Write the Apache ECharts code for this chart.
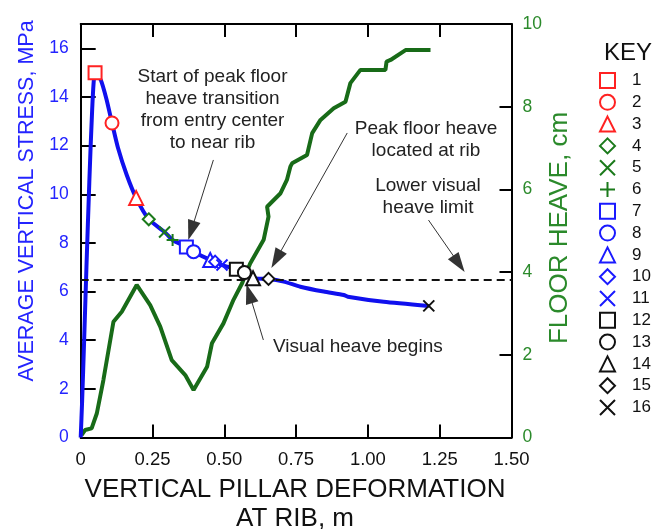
<!DOCTYPE html>
<html>
<head>
<meta charset="utf-8">
<script src="https://cdn.jsdelivr.net/npm/echarts@6/dist/echarts.min.js"></script>
<style>
  html, body { margin: 0; padding: 0; background: #fff; }
  #chart { width: 667px; height: 529px; }
</style>
</head>
<body>
<div id="chart"></div>
<script>
// Average vertical stress (MPa) vs. vertical pillar deformation at rib (m)
const stressX = [0, 0.005, 0.012, 0.02, 0.03, 0.04, 0.05, 0.07, 0.09, 0.109, 0.13, 0.16, 0.193, 0.237, 0.292, 0.32,
  0.368, 0.393, 0.451, 0.468, 0.492, 0.542, 0.57, 0.60, 0.654, 0.707, 0.765, 0.846, 0.916, 0.93, 1.055, 1.212];
const stressY = [0, 1.5, 4.0, 7.0, 10.5, 13.5, 15.0, 14.7, 13.9, 12.93, 11.9, 10.8, 9.85, 8.97, 8.45, 8.12,
  7.83, 7.64, 7.30, 7.23, 7.09, 6.92, 6.78, 6.55, 6.52, 6.41, 6.20, 6.00, 5.86, 5.79, 5.58, 5.41];

// Floor heave (cm) vs. vertical pillar deformation at rib (m)
const heaveX = [0.003, 0.015, 0.038, 0.056, 0.079, 0.114, 0.143, 0.195, 0.242, 0.277, 0.317, 0.364, 0.393, 0.44,
  0.457, 0.497, 0.532, 0.562, 0.59, 0.637, 0.654, 0.649, 0.695, 0.718, 0.73, 0.736, 0.788, 0.806, 0.835, 0.881,
  0.922, 0.939, 0.974, 1.061, 1.065, 1.079, 1.131, 1.218];
const heaveY = [0.06, 0.18, 0.22, 0.58, 1.39, 2.80, 3.04, 3.69, 3.20, 2.68, 1.87, 1.51, 1.15, 1.71,
  2.28, 2.76, 3.33, 3.73, 4.21, 4.78, 5.34, 5.58, 5.90, 6.23, 6.55, 6.63, 6.83, 7.36, 7.68, 7.96,
  8.12, 8.57, 8.89, 8.89, 9.09, 9.13, 9.37, 9.37];

// Keyed stages along the stress curve
const keyNames = ['1', '2', '3', '4', '5', '6', '7', '8', '9', '10', '11', '12', '13', '14', '15', '16'];
const keyX = [0.05, 0.109, 0.193, 0.237, 0.292, 0.32, 0.368, 0.393, 0.451, 0.468, 0.492, 0.542, 0.57, 0.60, 0.654, 1.212];
const keyY = [15.0, 12.93, 9.85, 8.97, 8.45, 8.12, 7.83, 7.64, 7.30, 7.23, 7.09, 6.92, 6.78, 6.55, 6.52, 5.41];

// Lower visual heave limit (MPa)
const visualLimit = 6.5;

// Axis ticks
const xTicks = ['0', '0.25', '0.50', '0.75', '1.00', '1.25', '1.50'];

// Annotation arrows: [startX, startY, headX, headY] in data units (stress axis)
const arrowLines = [
  [0.462, 11.41, 0.385, 8.51],
  [0.928, 12.52, 0.681, 7.33],
  [1.211, 8.94, 1.317, 7.14],
  [0.636, 4.01, 0.587, 5.92]
];

// Marker styling
const RED = '#ff2222', GRN = '#1b7a1b', BLU = '#1a1aff', BLK = '#111111';
const CROSS = 'path://M0,0L10,10M10,0L0,10';
const PLUS = 'path://M5,0L5,10M0,5L10,5';
const keyColors = [RED, RED, RED, GRN, GRN, GRN, BLU, BLU, BLU, BLU, BLU, BLK, BLK, BLK, BLK, BLK];
const keySymbols = ['rect', 'circle', 'triangle', 'diamond', CROSS, PLUS, 'rect', 'circle', 'triangle', 'diamond', CROSS,
  'rect', 'circle', 'triangle', 'diamond', CROSS];
const keySizes = [13, 13, 14, 12, 11, 12, 13, 13, 14, 12, 11, 13, 13, 14, 12, 11];

const FONT = '"Liberation Sans", Arial, Helvetica, sans-serif';

const chart = echarts.init(document.getElementById('chart'), null, { renderer: 'canvas' });

const zip = (xs, ys) => xs.map((x, i) => [x, ys[i]]);

const keySeries = keyNames.map((name, i) => ({
  name: name,
  type: 'scatter',
  xAxisIndex: 0,
  yAxisIndex: 0,
  symbol: keySymbols[i],
  symbolSize: keySizes[i],
  data: [[keyX[i], keyY[i]]],
  itemStyle: { color: '#ffffff', borderColor: keyColors[i], borderWidth: 2, opacity: 1 },
  emphasis: { disabled: true },
  z: 5
}));

const frameLine = { show: true, onZero: false, lineStyle: { color: '#000', width: 2 } };

const option = {
  animation: false,
  backgroundColor: '#ffffff',
  textStyle: { fontFamily: FONT },
  grid: { left: 80.7, right: 155.5, top: 24, bottom: 91.5, show: false, containLabel: false },
  legend: {
    orient: 'vertical',
    left: 594,
    top: 67,
    itemWidth: 15,
    itemHeight: 15,
    itemGap: 4.8,
    data: keyNames,
    selectedMode: false,
    textStyle: { fontFamily: FONT, fontSize: 17, color: '#111', padding: [0, 0, 0, 12] }
  },
  xAxis: [
    {
      type: 'value', position: 'bottom', min: 0, max: 1.5, interval: 0.25,
      axisLine: frameLine,
      axisTick: { show: true, inside: true, length: 13, lineStyle: { color: '#000', width: 2 } },
      axisLabel: {
        color: '#111', fontSize: 18.5, margin: 13, fontFamily: FONT,
        formatter: (v) => xTicks[Math.round(v / 0.25)]
      },
      splitLine: { show: false }
    },
    {
      type: 'value', position: 'top', min: 0, max: 1.5, interval: 0.25,
      axisLine: frameLine,
      axisTick: { show: true, inside: true, length: 13, lineStyle: { color: '#000', width: 2 } },
      axisLabel: { show: false },
      splitLine: { show: false }
    }
  ],
  yAxis: [
    {
      type: 'value', position: 'left', min: 0, max: 17, interval: 2,
      axisLine: frameLine,
      axisTick: { show: true, inside: true, length: 15, lineStyle: { color: '#000', width: 2 } },
      axisLabel: { color: '#2424ff', fontSize: 17.5, margin: 12, fontFamily: FONT, showMaxLabel: false,
        formatter: (v) => (v % 2 === 0 ? String(v) : '') },
      splitLine: { show: false }
    },
    {
      type: 'value', position: 'right', min: 0, max: 10, interval: 2,
      axisLine: frameLine,
      axisTick: { show: true, inside: true, length: 12, lineStyle: { color: '#000', width: 2 } },
      axisLabel: { color: '#2b8a2b', fontSize: 17.5, margin: 11, fontFamily: FONT },
      splitLine: { show: false }
    }
  ],
  graphic: [
    {
      type: 'text', x: 27, y: 201, rotation: Math.PI / 2,
      style: { text: 'AVERAGE VERTICAL STRESS, MPa', fill: '#2424ff', font: '21.5px ' + FONT,
        textAlign: 'center', textVerticalAlign: 'middle' }
    },
    {
      type: 'text', x: 560, y: 228, rotation: Math.PI / 2,
      style: { text: 'FLOOR HEAVE, cm', fill: '#2b8a2b', font: '26px ' + FONT,
        textAlign: 'center', textVerticalAlign: 'middle' }
    },
    {
      type: 'text', x: 295, y: 475.5,
      style: { text: 'VERTICAL PILLAR DEFORMATION\nAT RIB, m', fill: '#111', font: '26px ' + FONT,
        textAlign: 'center', textVerticalAlign: 'top', lineHeight: 29 }
    },
    {
      type: 'text', x: 628, y: 53,
      style: { text: 'KEY', fill: '#111', font: '24px ' + FONT, textAlign: 'center', textVerticalAlign: 'middle' }
    },
    {
      type: 'text', x: 212.5, y: 65.5,
      style: { text: 'Start of peak floor\nheave transition\nfrom entry center\nto near rib', fill: '#222',
        font: '19px ' + FONT, textAlign: 'center', textVerticalAlign: 'top', lineHeight: 22.2 }
    },
    {
      type: 'text', x: 426, y: 117.5,
      style: { text: 'Peak floor heave\nlocated at rib', fill: '#222',
        font: '19px ' + FONT, textAlign: 'center', textVerticalAlign: 'top', lineHeight: 22 }
    },
    {
      type: 'text', x: 428, y: 174.5,
      style: { text: 'Lower visual\nheave limit', fill: '#222',
        font: '19px ' + FONT, textAlign: 'center', textVerticalAlign: 'top', lineHeight: 22 }
    },
    {
      type: 'text', x: 273, y: 347,
      style: { text: 'Visual heave begins', fill: '#222',
        font: '19px ' + FONT, textAlign: 'left', textVerticalAlign: 'middle' }
    }
  ],
  series: [
    {
      name: 'Floor heave',
      type: 'line',
      xAxisIndex: 0,
      yAxisIndex: 1,
      data: zip(heaveX, heaveY),
      showSymbol: false,
      symbol: 'none',
      lineStyle: { color: '#186b18', width: 4 },
      emphasis: { disabled: true },
      z: 2
    },
    {
      name: 'Average vertical stress',
      type: 'line',
      xAxisIndex: 0,
      yAxisIndex: 0,
      data: zip(stressX, stressY),
      showSymbol: false,
      symbol: 'none',
      smooth: 0.2,
      lineStyle: { color: '#1010ee', width: 4 },
      emphasis: { disabled: true },
      z: 3,
      markLine: {
        silent: true,
        animation: false,
        label: { show: false },
        symbol: ['none', 'none'],
        lineStyle: { color: '#111', width: 2, type: [8, 5] },
        data: [{ yAxis: visualLimit }]
      }
    },
    {
      name: 'Annotations',
      type: 'line',
      xAxisIndex: 0,
      yAxisIndex: 0,
      data: [],
      z: 6,
      markLine: {
        silent: true,
        animation: false,
        label: { show: false },
        symbol: ['none', 'triangle'],
        symbolSize: [13, 20],
        lineStyle: { color: '#333', width: 1, type: 'solid' },
        itemStyle: { color: '#000' },
        data: arrowLines.map((a) => [
          { coord: [a[0], a[1]], lineStyle: { color: '#333', width: 1, type: 'solid' } },
          { coord: [a[2], a[3]], itemStyle: { color: '#000' } }
        ])
      }
    }
  ].concat(keySeries)
};

chart.setOption(option);
</script>
</body>
</html>
